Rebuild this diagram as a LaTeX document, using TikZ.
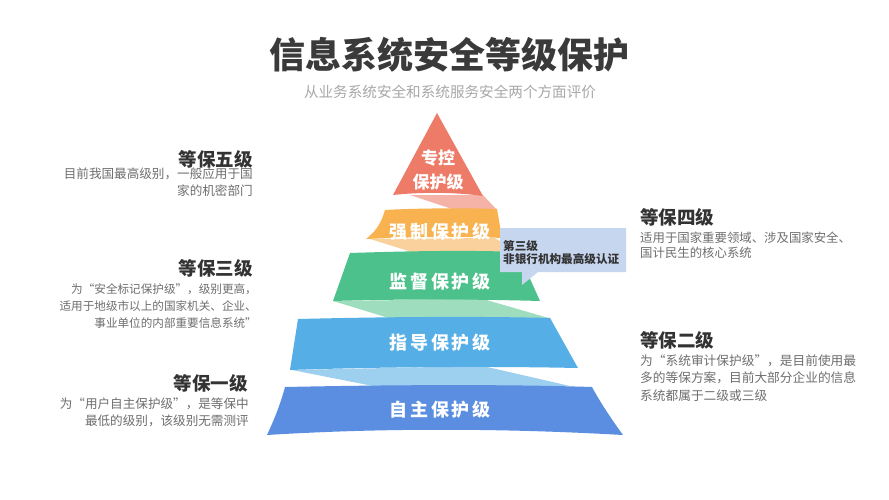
\documentclass[tikz,border=0pt]{standalone}
\usepackage{fontspec}
\newfontfamily\cjk{Noto Sans CJK SC}
\newfontfamily\cjkls[LetterSpace=15]{Noto Sans CJK SC}
\definecolor{tri}{HTML}{EE7B68}
\definecolor{trip}{HTML}{F4B3A6}
\definecolor{org}{HTML}{F8B24F}
\definecolor{orgl}{HTML}{FAD19C}
\definecolor{grn}{HTML}{4DC18B}
\definecolor{grnl}{HTML}{9EDDBE}
\definecolor{blu}{HTML}{55AEE6}
\definecolor{blul}{HTML}{9DCFEF}
\definecolor{dblu}{HTML}{5B8EE0}
\definecolor{calloutc}{HTML}{C6D6EF}
\definecolor{titlec}{HTML}{3A3A3A}
\definecolor{subc}{HTML}{A8A8A8}
\definecolor{headc}{HTML}{333333}
\definecolor{descc}{HTML}{6E6E6E}
\tikzset{
  headtxt/.style={font=\cjk\bfseries\fontsize{18.5}{20}\selectfont, text=headc, inner sep=0pt},
  desctxt/.style={font=\cjk\fontsize{12.6}{17}\selectfont, text=descc, inner sep=0pt},
  bandtxt/.style={font=\cjkls\bfseries\fontsize{18}{20}\selectfont, text=white, inner sep=0pt},
}
\begin{document}
\begin{tikzpicture}[x=1pt,y=-1pt]
\useasboundingbox[fill=white] (0,0) rectangle (889,500);

% title
\node[font=\cjk\bfseries\fontsize{36}{40}\selectfont, text=titlec, inner sep=0pt] (title) at (449.5,55) {信息系统安全等级保护};
\node[font=\cjk\fontsize{14.6}{16}\selectfont, text=subc, inner sep=0pt] (subtitle) at (450,92) {从业务系统安全和系统服务安全两个方面评价};

% back strips
\fill[trip] (410,195) -- (483,195) -- (497,210) -- (455,210) -- cycle;
\fill[orgl] (370,239) -- (495,238) -- (517,253) -- (415,253) -- cycle;
\fill[grnl] (333,301) -- (483,299) -- (552,319) -- (392,319) -- cycle;
\fill[blul] (292,370) -- (483,366) -- (570,386) -- (373,386) -- cycle;

% bands
\fill[tri] (437,113) -- (483,196) .. controls (455,192) and (420,192) .. (393,195) -- cycle;
\fill[org] (385,210) .. controls (420,208) and (470,208) .. (497,209) -- (502,238) .. controls (460,236) and (410,237) .. (366,239) .. controls (378,230) and (382,220) .. (385,210) -- cycle;
\fill[grn] (350,253) .. controls (410,251) and (470,250) .. (518,252) -- (540,301) .. controls (470,299) and (400,299) .. (333,301) -- cycle;
\fill[blu] (298,319) .. controls (380,317) and (470,316) .. (550,318) -- (578,368) .. controls (480,366) and (380,367) .. (290,370) -- cycle;
\fill[dblu] (285,387) .. controls (380,385) and (500,384) .. (592,387) .. controls (600,402) and (612,420) .. (623,435) .. controls (500,428) and (380,428) .. (267,435) .. controls (275,418) and (281,402) .. (285,387) -- cycle;

% band labels
\node[font=\cjk\bfseries\fontsize{17}{24}\selectfont, text=white, inner sep=0pt, align=center] (l5) at (438,170) {专控\\保护级};
\node[bandtxt] (l4) at (440,232) {强制保护级};
\node[bandtxt] (l3) at (440,282) {监督保护级};
\node[bandtxt] (l2) at (440,343) {指导保护级};
\node[bandtxt] (l1) at (440,410) {自主保护级};

% callout
\fill[calloutc] (500,228) -- (626,228) -- (626,272) -- (538,272) -- (522,285) -- (522,272) -- (500,272) -- cycle;
\node[font=\cjk\bfseries\fontsize{11.6}{12.4}\selectfont, text=headc, inner sep=0pt, align=left, anchor=north west] (call) at (503,240.5) {第三级\\非银行机构最高级认证};

% left texts
\node[headtxt, anchor=east] (h5) at (253,159) {等保五级};
\node[desctxt, align=right, anchor=north east] (d5) at (253,167.3) {目前我国最高级别，一般应用于国\\家的机密部门};
\node[headtxt, anchor=east] (h3) at (253,268) {等保三级};
\node[desctxt, font=\cjk\fontsize{11.6}{17}\selectfont, align=right, anchor=north east] (d3) at (257,283.8) {为“安全标记保护级”，级别更高，\\适用于地级市以上的国家机关、企业、\\事业单位的内部重要信息系统”};
\node[headtxt, anchor=east] (h1) at (248,383) {等保一级};
\node[desctxt, align=right, anchor=north east] (d1) at (249,397.3) {为“用户自主保护级”，是等保中\\最低的级别，该级别无需测评};

% right texts
\node[headtxt, anchor=west] (h4) at (640,217) {等保四级};
\node[desctxt, font=\cjk\fontsize{12.4}{15.5}\selectfont, align=left, anchor=north west] (d4) at (640,231.4) {适用于国家重要领域、涉及国家安全、\\国计民生的核心系统};
\node[headtxt, anchor=west] (h2) at (640,340) {等保二级};
\node[desctxt, font=\cjk\fontsize{12.7}{17.5}\selectfont, align=left, anchor=north west] (d2) at (640,354.3) {为“系统审计保护级”，是目前使用最\\多的等保方案，目前大部分企业的信息\\系统都属于二级或三级};
\end{tikzpicture}
\end{document}
